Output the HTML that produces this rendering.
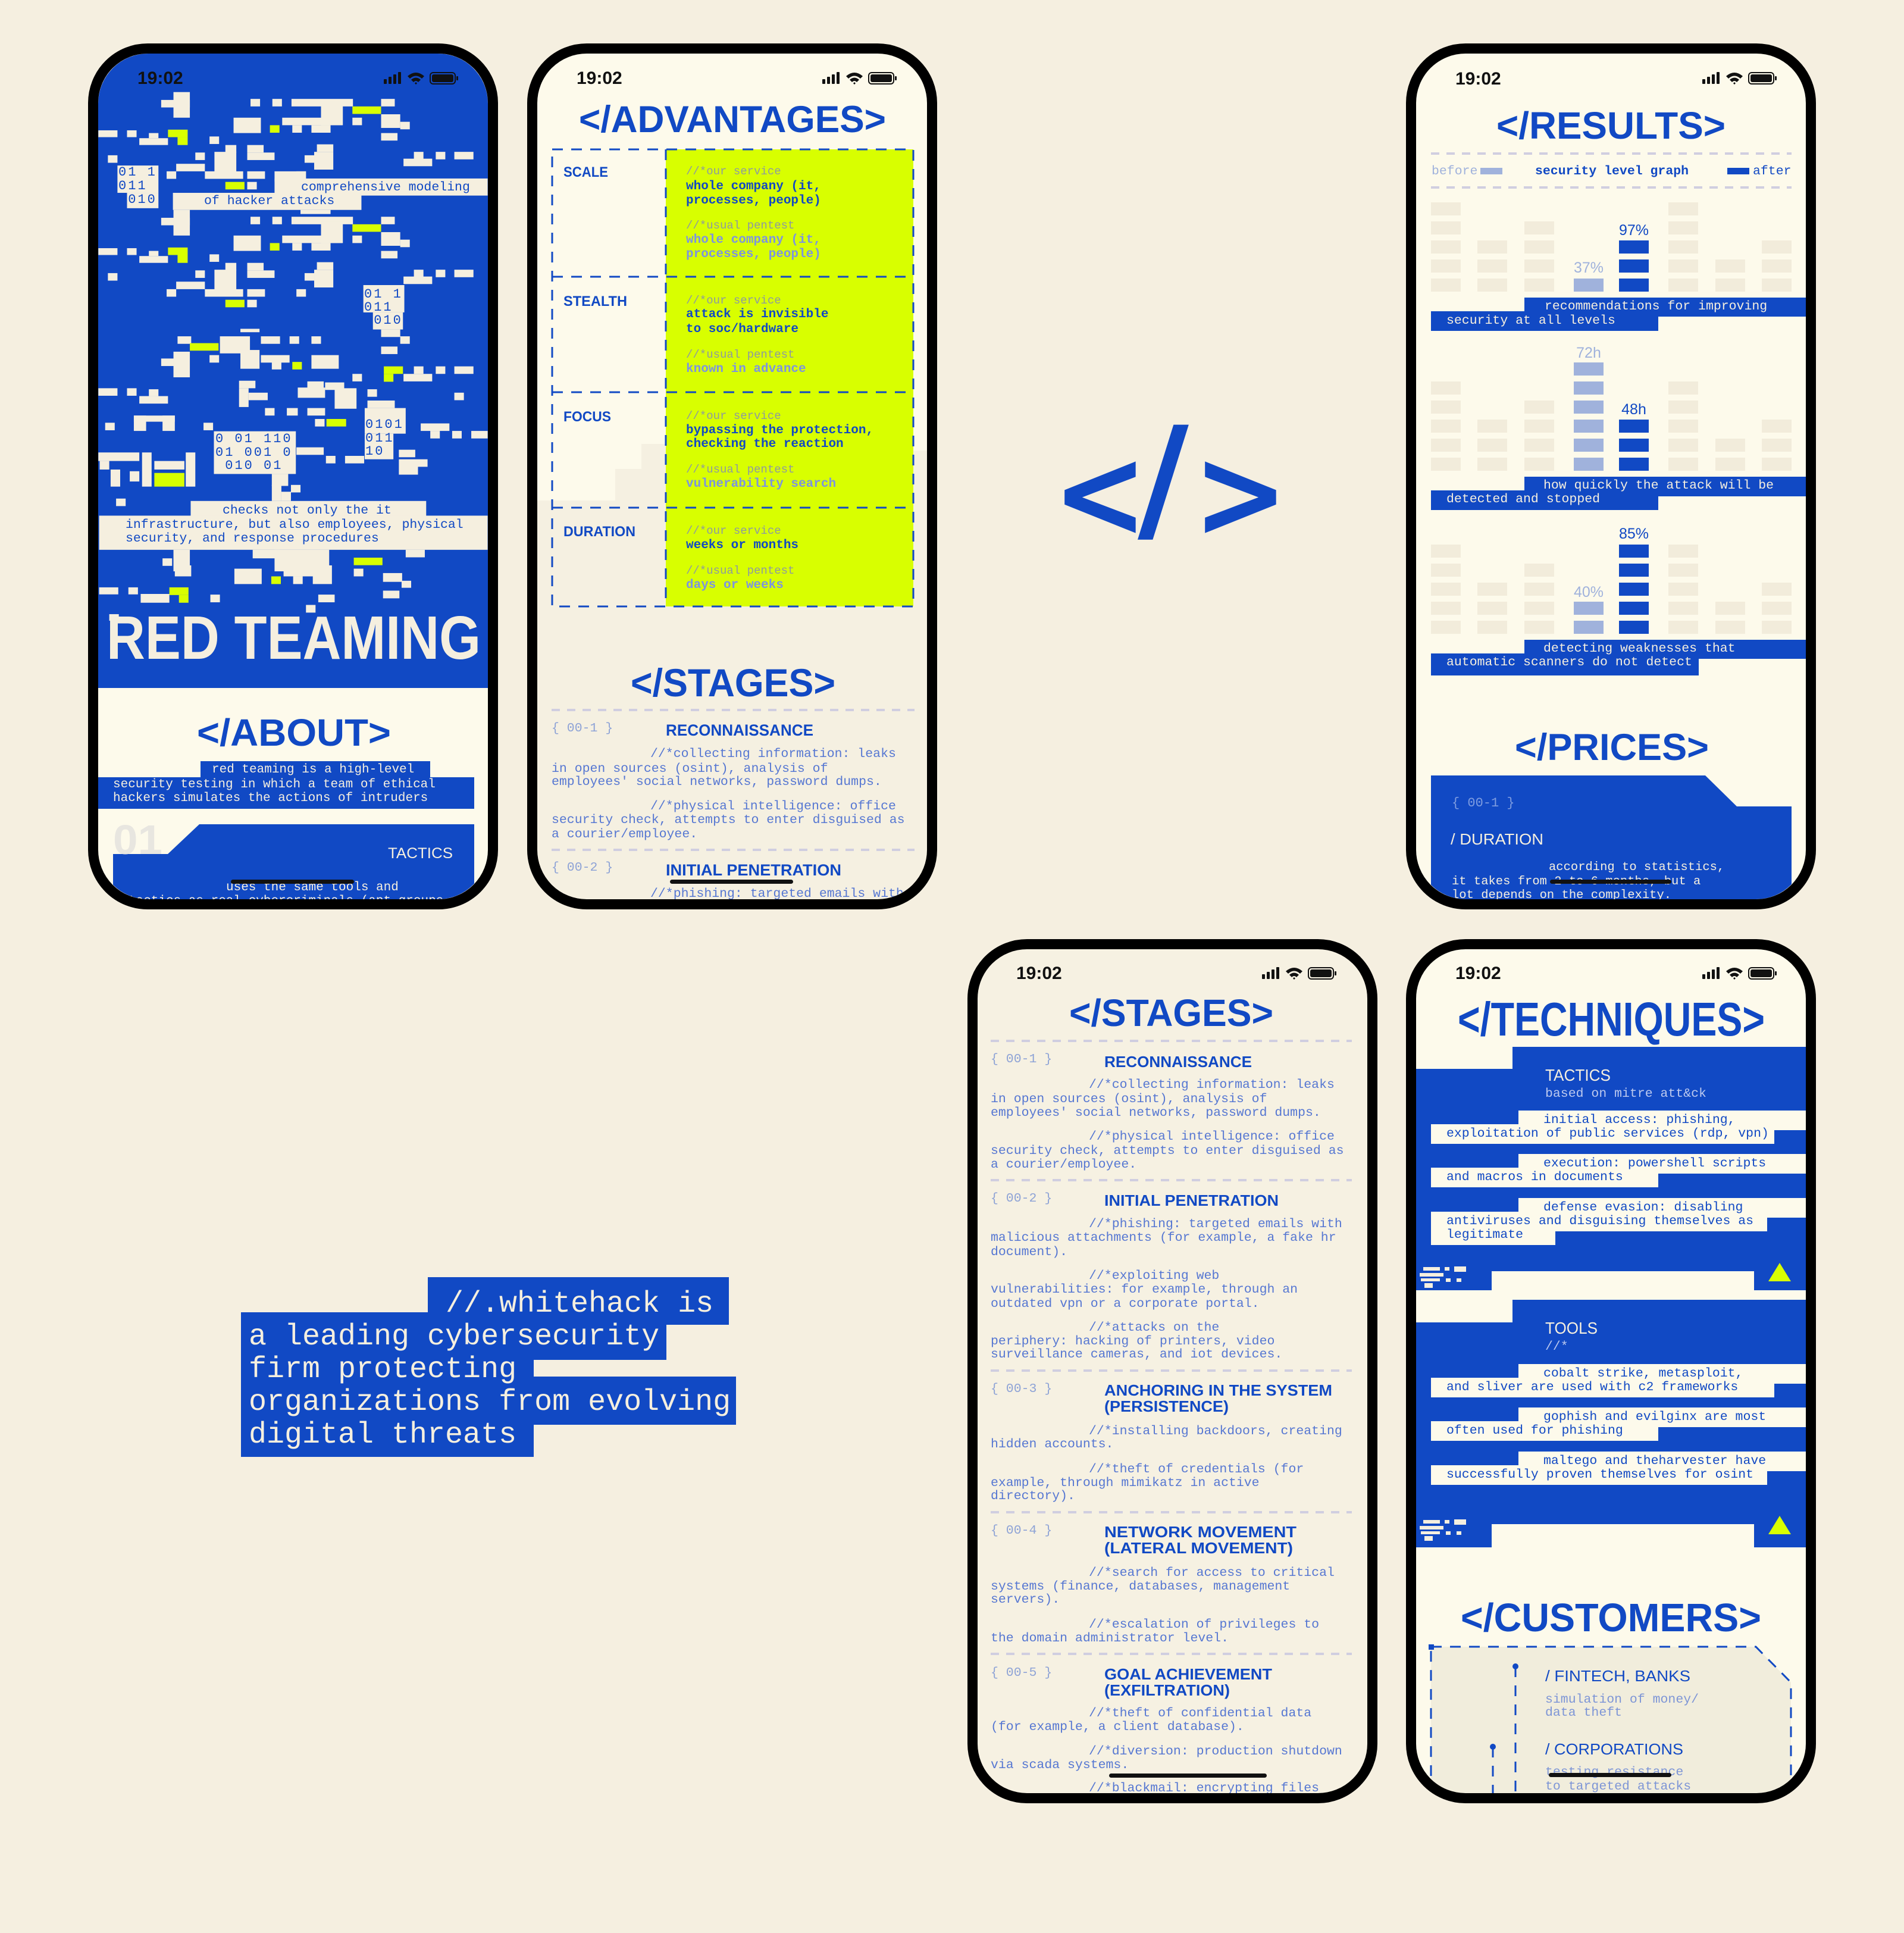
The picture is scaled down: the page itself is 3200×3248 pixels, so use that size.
<!DOCTYPE html>
<html><head><meta charset="utf-8">
<style>
*{margin:0;padding:0;box-sizing:border-box}
body{width:3200px;height:3248px;background:#f5efe0;position:relative;overflow:hidden;font-family:"Liberation Sans",sans-serif}
.a{position:absolute}
.scr{position:absolute;overflow:hidden;border-radius:84px}
.pg{position:absolute;width:3200px;height:3248px}
.fr{position:absolute;border:17px solid #000;border-radius:100px}
.m{position:absolute;white-space:nowrap;font-family:"Liberation Mono",monospace;font-size:21.5px;line-height:24px}
.f{position:absolute;white-space:nowrap;font-family:"Liberation Sans",sans-serif;font-weight:bold;line-height:1;color:#1149c4}
.f>span{display:inline-block;transform-origin:0 0}
.tm{position:absolute;font:bold 30px/30px "Liberation Sans",sans-serif;color:#111}
.hb{position:absolute;height:7px;background:#111;border-radius:4px}
.cb{color:#1149c4}.cw{color:#f5efdf}.cl{color:#5677d2}
</style></head><body>

<!-- status icon symbol -->
<svg width="0" height="0" style="position:absolute">
<defs>
<g id="st">
<rect x="0" y="14" width="5" height="8" rx="1"/><rect x="8" y="10" width="5" height="12" rx="1"/><rect x="16" y="6" width="5" height="16" rx="1"/><rect x="24" y="2" width="5" height="20" rx="1"/>
<path d="M40 9 Q54 -3 68 9 L64 13 Q54 4 44 13 Z M46 15 Q54 8 62 15 L58 19 Q54 15 50 19 Z M52 21 L54 19 L56 21 L54 23 Z"/>
<rect x="78" y="3" width="42" height="19" rx="5" fill="none" stroke="#111" stroke-width="2"/><rect x="81" y="6" width="36" height="13" rx="3"/><rect x="122" y="9" width="3" height="7" rx="1"/>
</g>
</defs></svg>

<!-- ============ PHONE 1 ============ -->
<div class="scr" style="left:165px;top:90px;width:655px;height:1421px;background:#fdfaeb">
<div class="pg" style="left:-165px;top:-90px">
 <div class="a" style="left:165px;top:90px;width:655px;height:1066px;background:#1149c4"></div>
 <svg class="a" style="left:140px;top:60px" width="720" height="900" viewBox="0 0 1568 1568" preserveAspectRatio="none">
  <defs><g id="ga" fill="#f5efdf">
   <rect x="285" y="188" width="105" height="22"/><rect x="330" y="165" width="60" height="75"/>
   <rect x="612" y="185" width="35" height="22"/><rect x="692" y="185" width="35" height="22"/><rect x="762" y="185" width="225" height="22"/><rect x="1090" y="185" width="50" height="22"/>
   <rect x="985" y="207" width="105" height="22" fill="#d8ff00"/>
   <rect x="550" y="240" width="100" height="45"/><rect x="683" y="262" width="35" height="22" fill="#d8ff00"/><rect x="728" y="240" width="220" height="22"/><rect x="765" y="262" width="35" height="22"/><rect x="835" y="262" width="70" height="22"/><rect x="870" y="200" width="80" height="62"/><rect x="985" y="240" width="35" height="22"/><rect x="1090" y="230" width="70" height="40"/><rect x="1160" y="252" width="35" height="22"/><rect x="1090" y="285" width="60" height="22"/>
   <rect x="55" y="277" width="70" height="20"/><rect x="160" y="277" width="35" height="20"/><rect x="205" y="300" width="105" height="20"/><rect x="240" y="285" width="35" height="15"/><rect x="310" y="275" width="72" height="22" fill="#d8ff00"/><rect x="345" y="297" width="37" height="23" fill="#d8ff00"/><rect x="462" y="295" width="35" height="22"/>
   <rect x="90" y="350" width="35" height="22"/><rect x="520" y="320" width="40" height="22"/><rect x="480" y="340" width="80" height="60"/><rect x="410" y="342" width="35" height="22"/><rect x="600" y="320" width="60" height="22"/><rect x="600" y="342" width="100" height="22"/><rect x="340" y="375" width="105" height="22"/><rect x="305" y="397" width="35" height="22"/><rect x="445" y="397" width="140" height="22"/><rect x="600" y="397" width="65" height="22"/><rect x="780" y="397" width="35" height="22"/>
   <rect x="855" y="318" width="60" height="22"/><rect x="810" y="350" width="35" height="22"/><rect x="845" y="340" width="70" height="52"/><rect x="1172" y="360" width="105" height="22"/><rect x="1210" y="340" width="35" height="22"/><rect x="1290" y="340" width="35" height="22"/><rect x="1358" y="340" width="70" height="22"/>
   <rect x="520" y="428" width="70" height="22" fill="#d8ff00"/><rect x="600" y="428" width="35" height="22"/>
  </g></defs>
  <use href="#ga"/>
  <use href="#ga" y="345"/>
  <g fill="#f5efdf">
   <rect x="125" y="380" width="150" height="80"/><rect x="160" y="460" width="115" height="45"/><rect x="700" y="397" width="115" height="30"/>
   <rect x="700" y="418" width="780" height="50"/><rect x="328" y="460" width="690" height="50"/><rect x="795" y="510" width="110" height="12"/>
   <rect x="1025" y="730" width="150" height="80"/><rect x="1060" y="810" width="110" height="50"/><rect x="1090" y="860" width="70" height="22"/><rect x="1160" y="880" width="35" height="22"/><rect x="1090" y="910" width="60" height="22"/>
   <rect x="575" y="858" width="70" height="10"/><rect x="345" y="880" width="50" height="22"/><rect x="500" y="880" width="110" height="50"/><rect x="575" y="920" width="70" height="55"/><rect x="650" y="880" width="70" height="22"/><rect x="755" y="880" width="35" height="22"/><rect x="835" y="880" width="35" height="22"/><rect x="285" y="945" width="50" height="22"/><rect x="330" y="925" width="60" height="75"/><rect x="462" y="935" width="35" height="22"/><rect x="650" y="935" width="105" height="22"/><rect x="690" y="955" width="35" height="22"/><rect x="835" y="935" width="100" height="40"/><rect x="985" y="990" width="35" height="22"/><rect x="1172" y="990" width="105" height="22"/><rect x="1210" y="968" width="35" height="22"/><rect x="1290" y="968" width="35" height="22"/><rect x="1358" y="968" width="70" height="22"/>
   <rect x="55" y="1032" width="70" height="22"/><rect x="160" y="1032" width="35" height="22"/><rect x="205" y="1055" width="105" height="22"/><rect x="240" y="1035" width="35" height="20"/><rect x="570" y="1010" width="60" height="22"/><rect x="570" y="1032" width="35" height="55"/><rect x="605" y="1045" width="70" height="22"/><rect x="665" y="1090" width="35" height="22"/><rect x="745" y="1090" width="40" height="22"/><rect x="785" y="1030" width="100" height="30"/><rect x="820" y="1012" width="60" height="22"/><rect x="885" y="1015" width="70" height="22"/><rect x="920" y="1032" width="80" height="60"/><rect x="820" y="1090" width="65" height="22"/><rect x="1040" y="1035" width="35" height="22"/><rect x="1040" y="1068" width="100" height="22"/><rect x="1358" y="1045" width="35" height="22"/>
   <rect x="80" y="1133" width="35" height="22"/><rect x="185" y="1112" width="45" height="45"/><rect x="290" y="1112" width="45" height="45"/><rect x="185" y="1112" width="150" height="18"/><rect x="440" y="1133" width="35" height="22"/><rect x="848" y="1122" width="35" height="22"/>
   <rect x="1030" y="1090" width="150" height="75"/><rect x="1030" y="1165" width="105" height="75"/><rect x="1235" y="1135" width="105" height="22"/><rect x="1270" y="1157" width="35" height="22"/><rect x="1350" y="1157" width="35" height="22"/><rect x="1420" y="1157" width="60" height="22"/>
   <rect x="478" y="1158" width="300" height="125"/><rect x="690" y="1283" width="60" height="35"/><rect x="780" y="1205" width="100" height="22"/><rect x="888" y="1230" width="35" height="22"/><rect x="958" y="1230" width="70" height="22"/><rect x="1155" y="1212" width="60" height="22"/><rect x="1155" y="1240" width="70" height="45"/><rect x="1225" y="1240" width="35" height="22"/>
   <rect x="55" y="1220" width="150" height="25"/><rect x="60" y="1245" width="35" height="25"/><rect x="100" y="1270" width="35" height="50"/><rect x="170" y="1275" width="35" height="30"/><rect x="215" y="1220" width="35" height="100"/><rect x="260" y="1245" width="110" height="25"/><rect x="375" y="1220" width="35" height="100"/><rect x="120" y="1355" width="35" height="22"/>
   <rect x="690" y="1315" width="35" height="47"/><rect x="725" y="1335" width="35" height="27"/><rect x="760" y="1315" width="35" height="22"/>
   <rect x="393" y="1362" width="862" height="45"/><rect x="58" y="1405" width="1422" height="100"/>
   <rect x="290" y="1530" width="35" height="22"/><rect x="330" y="1505" width="60" height="63"/><rect x="620" y="1505" width="100" height="25"/><rect x="700" y="1505" width="200" height="63"/><rect x="1180" y="1505" width="70" height="22"/>
  </g>
  <g fill="#d8ff00">
   <rect x="390" y="900" width="105" height="22"/><rect x="765" y="955" width="35" height="22"/><rect x="1100" y="968" width="70" height="22"/><rect x="1100" y="990" width="35" height="23"/><rect x="890" y="1122" width="72" height="22"/><rect x="260" y="1280" width="110" height="40"/><rect x="990" y="1528" width="105" height="22"/>
  </g>
 </svg>
 <svg class="a" style="left:140px;top:950px" width="720" height="206" viewBox="0 0 1568 558" preserveAspectRatio="none">
  <g fill="#f5efdf">
   <rect x="335" y="0" width="60" height="50"/><rect x="553" y="15" width="100" height="70"/><rect x="733" y="15" width="140" height="35"/><rect x="768" y="50" width="35" height="35"/><rect x="840" y="0" width="70" height="85"/><rect x="990" y="15" width="35" height="35"/><rect x="1097" y="35" width="70" height="40"/><rect x="1165" y="70" width="35" height="32"/><rect x="1097" y="115" width="60" height="35"/>
   <rect x="58" y="100" width="70" height="32"/><rect x="165" y="100" width="35" height="32"/><rect x="210" y="130" width="105" height="40"/><rect x="465" y="133" width="35" height="35"/><rect x="860" y="133" width="60" height="35"/><rect x="815" y="180" width="35" height="35"/><rect x="95" y="222" width="35" height="30"/>
  </g>
  <g fill="#d8ff00"><rect x="688" y="50" width="35" height="35"/><rect x="315" y="100" width="70" height="35"/><rect x="350" y="135" width="35" height="35"/></g>
 </svg>
 <div class="tm" style="left:231px;top:117px">19:02</div>
 <svg class="a" style="left:645px;top:119px" width="130" height="26" fill="#111"><use href="#st"/></svg>

 <div class="m cb" style="left:199px;top:278px;font-size:22px;letter-spacing:3px;line-height:23px;white-space:pre">01 1
011
 010</div>
 <div class="m cb" style="left:506px;top:303px">comprehensive modeling</div>
 <div class="m cb" style="left:343px;top:326px">of hacker attacks</div>
 <div class="m cb" style="left:612px;top:484px;font-size:22px;letter-spacing:3px;line-height:22px;white-space:pre">01 1
011
 010</div>
 <div class="m cb" style="left:614px;top:703px;font-size:22px;letter-spacing:3px;line-height:22.5px;white-space:pre">0101
011
10</div>
 <div class="m cb" style="left:362px;top:727px;font-size:22px;letter-spacing:3px;line-height:22.5px;white-space:pre">0 01 110
01 001 0
 010 01</div>
 <div class="m cb" style="left:374px;top:846px">checks not only the it</div>
 <div class="m cb" style="left:211px;top:870px">infrastructure, but also employees, physical</div>
 <div class="m cb" style="left:211px;top:893px">security, and response procedures</div>

 <div class="f fit" style="left:179px;top:1020px;width:629px;font-size:103px;color:#f5efdf"><span>RED TEAMING</span></div>

 <div class="f fit" style="left:331px;top:1199px;width:326px;font-size:64px"><span>&lt;/ABOUT&gt;</span></div>
 <div class="a" style="left:337px;top:1279px;width:386px;height:29px;background:#1149c4"></div>
 <div class="a" style="left:165px;top:1306px;width:632px;height:53px;background:#1149c4"></div>
 <div class="m cw" style="left:356px;top:1282px;font-size:21px">red teaming is a high-level</div>
 <div class="m cw" style="left:190px;top:1307px;font-size:21px">security testing in which a team of ethical</div>
 <div class="m cw" style="left:190px;top:1330px;font-size:21px">hackers simulates the   actions of intruders</div>

 <svg class="a" style="left:0;top:0" width="1000" height="1600"><polygon points="335,1385 797,1385 797,1600 190,1600 190,1435 282,1435" fill="#1149c4"/></svg>
 <div class="f fit" style="left:190px;top:1376px;width:83px;font-size:70px;color:#e8e6e0"><span>01</span></div>
 <div class="f fit" style="left:652px;top:1422px;width:109px;font-size:25px;color:#f5efdf;font-weight:normal"><span>TACTICS</span></div>
 <div class="m cw" style="left:380px;top:1480px;font-size:21px">uses the same tools and</div>
 <div class="m cw" style="left:216px;top:1503px;font-size:21px">tactics as real cybercriminals (apt groups</div>
 <div class="hb" style="left:388px;top:1478px;width:207px"></div>
</div></div>
<div class="fr" style="left:148px;top:73px;width:689px;height:1455px"></div>

<!-- ============ PHONE 2 ============ -->
<div class="scr" style="left:903px;top:90px;width:655px;height:1421px;background:#fdfaeb">
<div class="pg" style="left:-903px;top:-90px">
 <svg class="a" style="left:0;top:0" width="1600" height="1600">
  <rect x="903" y="841" width="655" height="700" fill="#f5f0e1"/>
  <rect x="1034" y="788" width="100" height="60" fill="#f5f0e1"/>
  <rect x="1078" y="746" width="60" height="60" fill="#f5f0e1"/>
  <rect x="1535" y="757" width="30" height="100" fill="#f5f0e1"/>
  <rect x="1119" y="251" width="416" height="768" fill="#d8ff00"/>
  <g stroke="#1149c4" stroke-width="3" fill="none" stroke-dasharray="18 14">
   <rect x="928" y="251" width="607" height="768"/>
   <line x1="1119" y1="251" x2="1119" y2="1019"/>
   <line x1="928" y1="465" x2="1535" y2="465"/><line x1="928" y1="659" x2="1535" y2="659"/><line x1="928" y1="853" x2="1535" y2="853"/>
  </g>
  <g stroke="#d0cee0" stroke-width="4" stroke-dasharray="14 12">
   <line x1="927" y1="1193" x2="1537" y2="1193"/><line x1="927" y1="1428" x2="1537" y2="1428"/>
  </g>
 </svg>
 <div class="tm" style="left:969px;top:117px">19:02</div>
 <svg class="a" style="left:1382px;top:119px" width="130" height="26" fill="#111"><use href="#st"/></svg>
 <div class="f fit" style="left:973px;top:170px;width:516px;font-size:63px"><span>&lt;/ADVANTAGES&gt;</span></div>

 <div class="f fit" style="left:947px;top:278px;width:75px;font-size:24px"><span>SCALE</span></div>
 <div class="f fit" style="left:947px;top:495px;width:107px;font-size:24px"><span>STEALTH</span></div>
 <div class="f fit" style="left:947px;top:689px;width:80px;font-size:24px"><span>FOCUS</span></div>
 <div class="f fit" style="left:947px;top:882px;width:121px;font-size:24px"><span>DURATION</span></div>

 <div class="m" style="left:1153px;top:276px;font-size:19px;color:#8d9aa0">//*our service</div>
 <div class="m cb" style="left:1153px;top:302px;font-size:21px;font-weight:bold">whole company (it,</div>
 <div class="m cb" style="left:1153px;top:326px;font-size:21px;font-weight:bold">processes, people)</div>
 <div class="m" style="left:1153px;top:367px;font-size:19px;color:#8d9aa0">//*usual pentest</div>
 <div class="m" style="left:1153px;top:392px;font-size:21px;color:#7c94e0;font-weight:bold">whole company (it,</div>
 <div class="m" style="left:1153px;top:416px;font-size:21px;color:#7c94e0;font-weight:bold">processes, people)</div>

 <div class="m" style="left:1153px;top:493px;font-size:19px;color:#8d9aa0">//*our service</div>
 <div class="m cb" style="left:1153px;top:517px;font-size:21px;font-weight:bold">attack is invisible</div>
 <div class="m cb" style="left:1153px;top:542px;font-size:21px;font-weight:bold">to soc/hardware</div>
 <div class="m" style="left:1153px;top:584px;font-size:19px;color:#8d9aa0">//*usual pentest</div>
 <div class="m" style="left:1153px;top:609px;font-size:21px;color:#7c94e0;font-weight:bold">known in advance</div>

 <div class="m" style="left:1153px;top:687px;font-size:19px;color:#8d9aa0">//*our service</div>
 <div class="m cb" style="left:1153px;top:712px;font-size:21px;font-weight:bold">bypassing the protection,</div>
 <div class="m cb" style="left:1153px;top:735px;font-size:21px;font-weight:bold">checking the reaction</div>
 <div class="m" style="left:1153px;top:777px;font-size:19px;color:#8d9aa0">//*usual pentest</div>
 <div class="m" style="left:1153px;top:802px;font-size:21px;color:#7c94e0;font-weight:bold">vulnerability search</div>

 <div class="m" style="left:1153px;top:880px;font-size:19px;color:#8d9aa0">//*our service</div>
 <div class="m cb" style="left:1153px;top:905px;font-size:21px;font-weight:bold">weeks or months</div>
 <div class="m" style="left:1153px;top:947px;font-size:19px;color:#8d9aa0">//*usual pentest</div>
 <div class="m" style="left:1153px;top:972px;font-size:21px;color:#7c94e0;font-weight:bold">days or weeks</div>

 <div class="f fit" style="left:1060px;top:1114px;width:344px;font-size:66px"><span>&lt;/STAGES&gt;</span></div>
 <div class="m" style="left:927px;top:1212px;color:#8ea3d6">{ 00-1 }</div>
 <div class="f fit" style="left:1119px;top:1214px;width:248px;font-size:27px"><span>RECONNAISSANCE</span></div>
 <div class="m cl" style="left:1093px;top:1255px">//*collecting information: leaks</div>
 <div class="m cl" style="left:927px;top:1280px">in open sources (osint), analysis of</div>
 <div class="m cl" style="left:927px;top:1302px">employees' social networks, password dumps.</div>
 <div class="m cl" style="left:1093px;top:1343px">//*physical intelligence: office</div>
 <div class="m cl" style="left:927px;top:1366px">security check, attempts to enter disguised as</div>
 <div class="m cl" style="left:927px;top:1390px">a courier/employee.</div>
 <div class="m" style="left:927px;top:1446px;color:#8ea3d6">{ 00-2 }</div>
 <div class="f fit" style="left:1119px;top:1449px;width:295px;font-size:27px"><span>INITIAL PENETRATION</span></div>
 <div class="m cl" style="left:1093px;top:1490px">//*phishing: targeted emails with</div>
 <div class="hb" style="left:1126px;top:1478px;width:207px"></div>
</div></div>
<div class="fr" style="left:886px;top:73px;width:689px;height:1455px"></div>

<!-- ============ CENTER </> ============ -->
<div class="a" style="left:1769px;top:723px;font:bold 212px/212px 'DejaVu Sans',sans-serif;color:#1149c4;transform:scaleX(0.9);transform-origin:0 0">&lt;</div>
<div class="a" style="left:1912px;top:687px;font:bold 235px/235px 'DejaVu Sans',sans-serif;color:#1149c4">/</div>
<div class="a" style="left:2005px;top:723px;font:bold 212px/212px 'DejaVu Sans',sans-serif;color:#1149c4;transform:scaleX(0.9);transform-origin:0 0">&gt;</div>

<!-- ============ PHONE 3 ============ -->
<div class="scr" style="left:2380px;top:90px;width:655px;height:1421px;background:#fdfaeb">
<div class="pg" style="left:-2380px;top:-90px">
 <svg class="a" style="left:0;top:0" width="3200" height="1600">
  <g stroke="#d0cee0" stroke-width="4" stroke-dasharray="14 12">
   <line x1="2405" y1="258" x2="3011" y2="258"/><line x1="2405" y1="315" x2="3011" y2="315"/>
  </g>
  <rect x="2488" y="282" width="37" height="11" fill="#a0b2dc"/><rect x="2903" y="282" width="37" height="11" fill="#1149c4"/>
  <g stroke-width="50" stroke-dasharray="22 10">
   <!-- chart1: y1=500-32n to 490 -->
   <g stroke="#f2ecdb">
    <line x1="2430" y1="340" x2="2430" y2="490"/><line x1="2508" y1="404" x2="2508" y2="490"/><line x1="2587" y1="372" x2="2587" y2="490"/><line x1="2829" y1="340" x2="2829" y2="490"/><line x1="2908" y1="436" x2="2908" y2="490"/><line x1="2986" y1="404" x2="2986" y2="490"/>
    <line x1="2430" y1="641" x2="2430" y2="791"/><line x1="2508" y1="705" x2="2508" y2="791"/><line x1="2587" y1="673" x2="2587" y2="791"/><line x1="2829" y1="641" x2="2829" y2="791"/><line x1="2908" y1="737" x2="2908" y2="791"/><line x1="2986" y1="705" x2="2986" y2="791"/>
    <line x1="2430" y1="915" x2="2430" y2="1065"/><line x1="2508" y1="979" x2="2508" y2="1065"/><line x1="2587" y1="947" x2="2587" y2="1065"/><line x1="2829" y1="915" x2="2829" y2="1065"/><line x1="2908" y1="1011" x2="2908" y2="1065"/><line x1="2986" y1="979" x2="2986" y2="1065"/>
   </g>
   <g stroke="#a0b2dc">
    <line x1="2670" y1="468" x2="2670" y2="490"/><line x1="2670" y1="609" x2="2670" y2="791"/><line x1="2670" y1="1011" x2="2670" y2="1065"/>
   </g>
   <g stroke="#1149c4">
    <line x1="2746" y1="404" x2="2746" y2="490"/><line x1="2746" y1="705" x2="2746" y2="791"/><line x1="2746" y1="915" x2="2746" y2="1065"/>
   </g>
  </g>
  <g fill="#1149c4">
   <rect x="2562" y="500" width="473" height="32"/><rect x="2405" y="523" width="382" height="33"/>
   <rect x="2562" y="801" width="473" height="33"/><rect x="2405" y="824" width="382" height="33"/>
   <rect x="2562" y="1075" width="473" height="32"/><rect x="2405" y="1098" width="450" height="37"/>
   <polygon points="2405,1303 2866,1303 2919,1355 3011,1355 3011,1600 2405,1600"/>
  </g>
 </svg>
 <div class="tm" style="left:2446px;top:118px">19:02</div>
 <svg class="a" style="left:2861px;top:119px" width="130" height="26" fill="#111"><use href="#st"/></svg>
 <div class="f fit" style="left:2515px;top:179px;width:385px;font-size:64px"><span>&lt;/RESULTS&gt;</span></div>
 <div class="m" style="left:2406px;top:276px;color:#a0b2dc">before</div>
 <div class="m cb" style="left:2580px;top:276px;font-weight:bold">security level graph</div>
 <div class="m cb" style="left:2946px;top:276px">after</div>

 <div class="a" style="left:2716px;top:373px;width:60px;text-align:center;font:25px/28px 'Liberation Sans',sans-serif;color:#1149c4">97%</div>
 <div class="a" style="left:2640px;top:436px;width:60px;text-align:center;font:25px/28px 'Liberation Sans',sans-serif;color:#a0b2dc">37%</div>
 <div class="a" style="left:2640px;top:579px;width:60px;text-align:center;font:25px/28px 'Liberation Sans',sans-serif;color:#a0b2dc">72h</div>
 <div class="a" style="left:2716px;top:674px;width:60px;text-align:center;font:25px/28px 'Liberation Sans',sans-serif;color:#1149c4">48h</div>
 <div class="a" style="left:2716px;top:883px;width:60px;text-align:center;font:25px/28px 'Liberation Sans',sans-serif;color:#1149c4">85%</div>
 <div class="a" style="left:2640px;top:981px;width:60px;text-align:center;font:25px/28px 'Liberation Sans',sans-serif;color:#a0b2dc">40%</div>

 <div class="m cw" style="left:2596px;top:503px">recommendations for improving</div>
 <div class="m cw" style="left:2431px;top:527px">security at all levels</div>
 <div class="m cw" style="left:2594px;top:804px">how quickly the attack will be</div>
 <div class="m cw" style="left:2431px;top:827px">detected and stopped</div>
 <div class="m cw" style="left:2594px;top:1078px">detecting weaknesses that</div>
 <div class="m cw" style="left:2431px;top:1101px">automatic scanners do not detect</div>

 <div class="f fit" style="left:2546px;top:1225px;width:326px;font-size:63px"><span>&lt;/PRICES&gt;</span></div>
 <div class="m" style="left:2440px;top:1338px;color:#7e9ce0;font-size:22px">{ 00-1 }</div>
 <div class="f fit" style="left:2438px;top:1397px;width:156px;font-size:26px;color:#f5efdf;font-weight:normal"><span>/ DURATION</span></div>
 <div class="m cw" style="left:2603px;top:1446px;font-size:20.5px">according to statistics,</div>
 <div class="m cw" style="left:2440px;top:1470px;font-size:20.5px">it takes from 2 to 6 months, but a</div>
 <div class="m cw" style="left:2440px;top:1493px;font-size:20.5px">lot depends on the complexity.</div>
 <div class="hb" style="left:2605px;top:1478px;width:204px"></div>
</div></div>
<div class="fr" style="left:2363px;top:73px;width:689px;height:1455px"></div>

<!-- ============ WHITEHACK TEXT ============ -->
<div class="a" style="left:719px;top:2146px;width:506px;height:80px;background:#1149c4"></div>
<div class="a" style="left:405px;top:2205px;width:715px;height:80px;background:#1149c4"></div>
<div class="a" style="left:405px;top:2284px;width:492px;height:30px;background:#1149c4"></div>
<div class="a" style="left:405px;top:2313px;width:832px;height:81px;background:#1149c4"></div>
<div class="a" style="left:405px;top:2393px;width:492px;height:55px;background:#1149c4"></div>
<div class="a" style="left:749px;top:2167px;font:50px/50px 'Liberation Mono',monospace;color:#f5efdf;white-space:nowrap">//.whitehack is</div>
<div class="a" style="left:418px;top:2222px;font:50px/50px 'Liberation Mono',monospace;color:#f5efdf;white-space:nowrap">a leading cybersecurity</div>
<div class="a" style="left:418px;top:2277px;font:50px/50px 'Liberation Mono',monospace;color:#f5efdf;white-space:nowrap">firm protecting</div>
<div class="a" style="left:418px;top:2332px;font:50px/50px 'Liberation Mono',monospace;color:#f5efdf;white-space:nowrap">organizations from evolving</div>
<div class="a" style="left:418px;top:2387px;font:50px/50px 'Liberation Mono',monospace;color:#f5efdf;white-space:nowrap">digital threats</div>

<!-- ============ PHONE 4 ============ -->
<div class="scr" style="left:1643px;top:1595px;width:655px;height:1418px;background:#f6f1e2">
<div class="pg" style="left:-1643px;top:-1595px">
 <svg class="a" style="left:0;top:0" width="2400" height="3100">
  <g stroke="#d0cee0" stroke-width="4" stroke-dasharray="14 12">
   <line x1="1665" y1="1749" x2="2272" y2="1749"/><line x1="1665" y1="1983" x2="2272" y2="1983"/><line x1="1665" y1="2303" x2="2272" y2="2303"/><line x1="1665" y1="2541" x2="2272" y2="2541"/><line x1="1665" y1="2779" x2="2272" y2="2779"/>
  </g>
 </svg>
 <div class="tm" style="left:1708px;top:1621px">19:02</div>
 <svg class="a" style="left:2121px;top:1623px" width="130" height="26" fill="#111"><use href="#st"/></svg>
 <div class="f fit" style="left:1797px;top:1670px;width:343px;font-size:64px"><span>&lt;/STAGES&gt;</span></div>

 <div class="m" style="left:1665px;top:1768px;color:#8ea3d6">{ 00-1 }</div>
 <div class="f fit" style="left:1856px;top:1771px;width:248px;font-size:26px"><span>RECONNAISSANCE</span></div>
 <div class="m cl" style="left:1830px;top:1811px">//*collecting information: leaks</div>
 <div class="m cl" style="left:1665px;top:1835px">in open sources (osint), analysis of</div>
 <div class="m cl" style="left:1665px;top:1858px">employees' social networks, password dumps.</div>
 <div class="m cl" style="left:1830px;top:1898px">//*physical intelligence: office</div>
 <div class="m cl" style="left:1665px;top:1922px">security check, attempts to enter disguised as</div>
 <div class="m cl" style="left:1665px;top:1945px">a courier/employee.</div>

 <div class="m" style="left:1665px;top:2002px;color:#8ea3d6">{ 00-2 }</div>
 <div class="f fit" style="left:1856px;top:2004px;width:293px;font-size:26px"><span>INITIAL PENETRATION</span></div>
 <div class="m cl" style="left:1830px;top:2045px">//*phishing: targeted emails with</div>
 <div class="m cl" style="left:1665px;top:2068px">malicious attachments (for example, a fake hr</div>
 <div class="m cl" style="left:1665px;top:2092px">document).</div>
 <div class="m cl" style="left:1830px;top:2132px">//*exploiting web</div>
 <div class="m cl" style="left:1665px;top:2155px">vulnerabilities: for example, through an</div>
 <div class="m cl" style="left:1665px;top:2179px">outdated vpn or a corporate portal.</div>
 <div class="m cl" style="left:1830px;top:2219px">//*attacks on the</div>
 <div class="m cl" style="left:1665px;top:2242px">periphery: hacking of printers, video</div>
 <div class="m cl" style="left:1665px;top:2264px">surveillance cameras, and iot devices.</div>

 <div class="m" style="left:1665px;top:2322px;color:#8ea3d6">{ 00-3 }</div>
 <div class="f fit" style="left:1856px;top:2323px;width:383px;font-size:26px"><span>ANCHORING IN THE SYSTEM</span></div>
 <div class="f fit" style="left:1856px;top:2350px;width:209px;font-size:26px"><span>(PERSISTENCE)</span></div>
 <div class="m cl" style="left:1830px;top:2393px">//*installing backdoors, creating</div>
 <div class="m cl" style="left:1665px;top:2415px">hidden accounts.</div>
 <div class="m cl" style="left:1830px;top:2457px">//*theft of credentials (for</div>
 <div class="m cl" style="left:1665px;top:2480px">example, through mimikatz in active</div>
 <div class="m cl" style="left:1665px;top:2502px">directory).</div>

 <div class="m" style="left:1665px;top:2560px;color:#8ea3d6">{ 00-4 }</div>
 <div class="f fit" style="left:1856px;top:2561px;width:323px;font-size:26px"><span>NETWORK MOVEMENT</span></div>
 <div class="f fit" style="left:1856px;top:2588px;width:317px;font-size:26px"><span>(LATERAL MOVEMENT)</span></div>
 <div class="m cl" style="left:1830px;top:2631px">//*search for access to critical</div>
 <div class="m cl" style="left:1665px;top:2654px">systems (finance, databases, management</div>
 <div class="m cl" style="left:1665px;top:2676px">servers).</div>
 <div class="m cl" style="left:1830px;top:2718px">//*escalation of privileges to</div>
 <div class="m cl" style="left:1665px;top:2741px">the domain administrator level.</div>

 <div class="m" style="left:1665px;top:2799px;color:#8ea3d6">{ 00-5 }</div>
 <div class="f fit" style="left:1856px;top:2800px;width:282px;font-size:26px"><span>GOAL ACHIEVEMENT</span></div>
 <div class="f fit" style="left:1856px;top:2827px;width:211px;font-size:26px"><span>(EXFILTRATION)</span></div>
 <div class="m cl" style="left:1830px;top:2867px">//*theft of confidential data</div>
 <div class="m cl" style="left:1665px;top:2890px">(for example, a client database).</div>
 <div class="m cl" style="left:1830px;top:2931px">//*diversion: production shutdown</div>
 <div class="m cl" style="left:1665px;top:2954px">via scada systems.</div>
 <div class="m cl" style="left:1830px;top:2993px">//*blackmail: encrypting files</div>
 <div class="hb" style="left:1864px;top:2980px;width:265px"></div>
</div></div>
<div class="fr" style="left:1626px;top:1578px;width:689px;height:1452px"></div>

<!-- ============ PHONE 5 ============ -->
<div class="scr" style="left:2380px;top:1595px;width:655px;height:1418px;background:#fdfaeb">
<div class="pg" style="left:-2380px;top:-1595px">
 <svg class="a" style="left:0;top:0" width="3200" height="3100">
  <g fill="#1149c4">
   <polygon points="2542,1759 3040,1759 3040,2168 2948,2168 2948,2136 2507,2136 2507,2168 2380,2168 2380,1796 2542,1796"/>
   <polygon points="2542,2184 3040,2184 3040,2600 2948,2600 2948,2561 2507,2561 2507,2600 2380,2600 2380,2222 2542,2222"/>
  </g>
  <g fill="#fdfaeb">
   <rect x="2552" y="1866" width="483" height="33"/><rect x="2405" y="1889" width="577" height="33"/>
   <rect x="2552" y="1939" width="483" height="33"/><rect x="2405" y="1962" width="382" height="33"/>
   <rect x="2552" y="2013" width="483" height="33"/><rect x="2405" y="2036" width="565" height="33"/><rect x="2405" y="2059" width="209" height="33"/>
   <rect x="2552" y="2292" width="483" height="33"/><rect x="2405" y="2315" width="577" height="33"/>
   <rect x="2552" y="2365" width="483" height="33"/><rect x="2405" y="2388" width="382" height="33"/>
   <rect x="2552" y="2439" width="483" height="33"/><rect x="2405" y="2462" width="565" height="33"/>
  </g>
  <g fill="#f5efdf" id="pxg">
   <rect x="2392" y="2129" width="28" height="6"/><rect x="2428" y="2129" width="8" height="6"/><rect x="2444" y="2128" width="20" height="9"/>
   <rect x="2386" y="2139" width="40" height="6"/><rect x="2388" y="2148" width="32" height="5"/><rect x="2430" y="2148" width="8" height="6"/><rect x="2448" y="2148" width="8" height="6"/>
   <rect x="2394" y="2156" width="14" height="8"/>
  </g>
  <use href="#pxg" y="425"/>
  <g fill="#d8ff00"><polygon points="2972,2153 3010,2153 2991,2122"/><polygon points="2972,2578 3010,2578 2991,2547"/></g>
  <polygon points="2405,2767 2951,2767 3010,2827 3010,3040 2405,3040" fill="#f1eddc" stroke="#1149c4" stroke-width="3" stroke-dasharray="18 14"/>
  <rect x="2401" y="2763" width="9" height="9" fill="#1149c4"/>
  <g stroke="#1149c4" stroke-width="3" stroke-dasharray="18 14"><line x1="2547" y1="2800" x2="2547" y2="3040"/><line x1="2509" y1="2935" x2="2509" y2="3040"/></g>
  <g fill="#1149c4"><circle cx="2547" cy="2800" r="5"/><circle cx="2509" cy="2935" r="5"/></g>
 </svg>
 <div class="tm" style="left:2446px;top:1621px">19:02</div>
 <svg class="a" style="left:2861px;top:1623px" width="130" height="26" fill="#111"><use href="#st"/></svg>
 <div class="f fit" style="left:2450px;top:1673px;width:516px;font-size:80px"><span>&lt;/TECHNIQUES&gt;</span></div>

 <div class="f fit" style="left:2597px;top:1793px;width:110px;font-size:28px;color:#f5efdf;font-weight:normal"><span>TACTICS</span></div>
 <div class="m" style="left:2597px;top:1826px;color:#bcc9ef">based on mitre att&amp;ck</div>
 <div class="m cb" style="left:2594px;top:1870px">initial access: phishing,</div>
 <div class="m cb" style="left:2431px;top:1893px">exploitation of public services (rdp, vpn)</div>
 <div class="m cb" style="left:2594px;top:1943px">execution: powershell scripts</div>
 <div class="m cb" style="left:2431px;top:1966px">and macros in documents</div>
 <div class="m cb" style="left:2594px;top:2017px">defense evasion: disabling</div>
 <div class="m cb" style="left:2431px;top:2040px">antiviruses and disguising themselves as</div>
 <div class="m cb" style="left:2431px;top:2063px">legitimate</div>

 <div class="f fit" style="left:2597px;top:2218px;width:88px;font-size:28px;color:#f5efdf;font-weight:normal"><span>TOOLS</span></div>
 <div class="m" style="left:2597px;top:2251px;color:#bcc9ef">//*</div>
 <div class="m cb" style="left:2594px;top:2296px">cobalt strike, metasploit,</div>
 <div class="m cb" style="left:2431px;top:2319px">and sliver are used with c2 frameworks</div>
 <div class="m cb" style="left:2594px;top:2369px">gophish and evilginx are most</div>
 <div class="m cb" style="left:2431px;top:2392px">often used for phishing</div>
 <div class="m cb" style="left:2594px;top:2443px">maltego and theharvester have</div>
 <div class="m cb" style="left:2431px;top:2466px">successfully proven themselves for osint</div>

 <div class="f fit" style="left:2455px;top:2685px;width:505px;font-size:67px"><span>&lt;/CUSTOMERS&gt;</span></div>
 <div class="f fit" style="left:2597px;top:2803px;width:244px;font-size:26px;font-weight:normal"><span>/ FINTECH, BANKS</span></div>
 <div class="m" style="left:2597px;top:2844px;color:#7d95d6">simulation of money/</div>
 <div class="m" style="left:2597px;top:2866px;color:#7d95d6">data theft</div>
 <div class="f fit" style="left:2597px;top:2926px;width:232px;font-size:26px;font-weight:normal"><span>/ CORPORATIONS</span></div>
 <div class="m" style="left:2597px;top:2966px;color:#7d95d6">testing resistance</div>
 <div class="m" style="left:2597px;top:2990px;color:#7d95d6">to targeted attacks</div>
 <div class="hb" style="left:2603px;top:2979px;width:206px"></div>
</div></div>
<div class="fr" style="left:2363px;top:1578px;width:689px;height:1452px"></div>

<script>
document.querySelectorAll('.fit').forEach(function(e){
 var w=parseFloat(e.style.width);var s=e.firstElementChild;
 var nw=s.getBoundingClientRect().width;
 if(nw>0){s.style.transform='scaleX('+(w/nw)+')';}
});
</script>
</body></html>
